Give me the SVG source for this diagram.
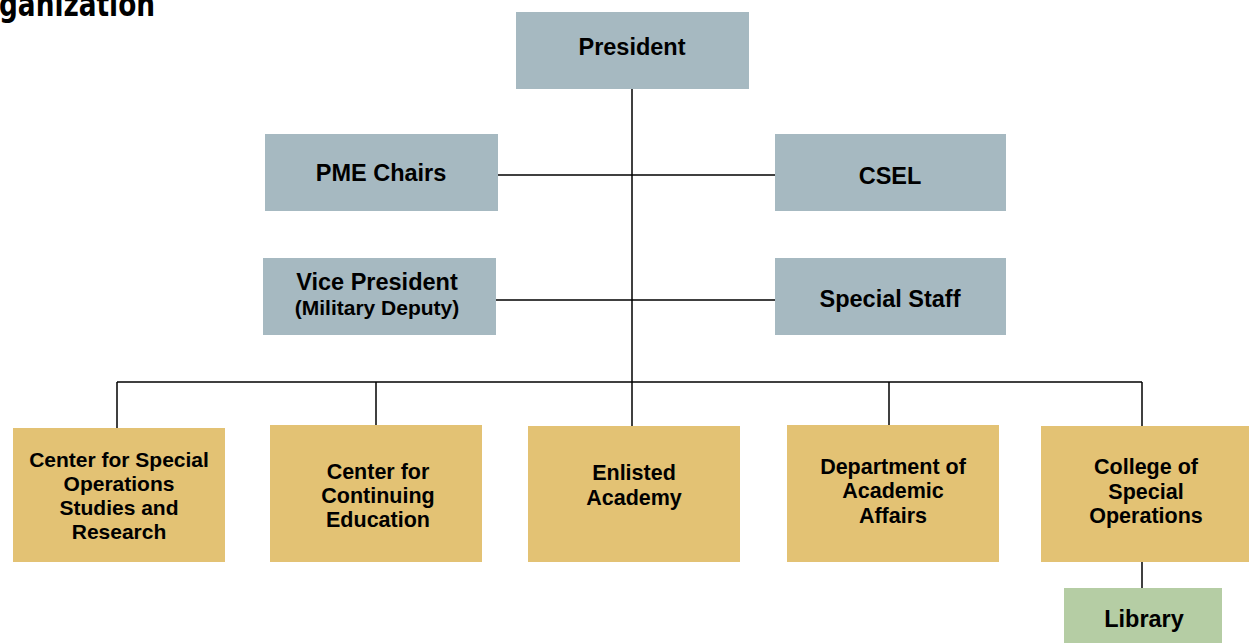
<svg xmlns="http://www.w3.org/2000/svg" width="1249" height="643" viewBox="0 0 1249 643">
<style>
.top{fill:#a6b9c1}
.unit{fill:#e3c274}
.lib{fill:#b5cda4}
text{font-family:"Liberation Sans",Arial,sans-serif;font-weight:bold;fill:#000;text-anchor:middle}
.t1{font-size:23.5px}
.t2{font-size:21px}
.t3{font-size:21.5px}
.title{font-family:"Liberation Sans Narrow","DejaVu Sans Condensed",sans-serif;font-size:34px;text-anchor:start}
.conn line{stroke:#000;stroke-width:1.5}
</style>
<rect width="1249" height="643" fill="#fff"/>
<text class="title" x="-1" y="16" textLength="156" lengthAdjust="spacingAndGlyphs">ganization</text>
<g id="connectors" class="conn">
<line x1="632" y1="89" x2="632" y2="426"/>
<line x1="498" y1="175" x2="775" y2="175"/>
<line x1="496" y1="300" x2="775" y2="300"/>
<line x1="117" y1="382" x2="1142" y2="382"/>
<line x1="117" y1="382" x2="117" y2="428"/>
<line x1="376" y1="382" x2="376" y2="425"/>
<line x1="889" y1="382" x2="889" y2="425"/>
<line x1="1142" y1="382" x2="1142" y2="426"/>
<line x1="1142" y1="562" x2="1142" y2="588"/>
</g>
<g id="president"><rect class="top" x="516" y="12" width="233" height="77"/><text class="t1" x="632" y="55">President</text></g>
<g id="pme-chairs"><rect class="top" x="265" y="134" width="233" height="77"/><text class="t1" x="381" y="181">PME Chairs</text></g>
<g id="csel"><rect class="top" x="775" y="134" width="231" height="77"/><text class="t1" x="890" y="184">CSEL</text></g>
<g id="vice-president"><rect class="top" x="263" y="258" width="233" height="77"/><text class="t1" x="377" y="290">Vice President</text><text class="t2" x="377" y="315">(Military Deputy)</text></g>
<g id="special-staff"><rect class="top" x="775" y="258" width="231" height="77"/><text class="t1" x="890" y="307">Special Staff</text></g>
<g id="cssr"><rect class="unit" x="13" y="428" width="212" height="134"/><text class="t2" x="119" y="467">Center for Special</text><text class="t2" x="119" y="491">Operations</text><text class="t2" x="119" y="515">Studies and</text><text class="t2" x="119" y="539">Research</text></g>
<g id="cce"><rect class="unit" x="270" y="425" width="212" height="137"/><text class="t3" x="378" y="479">Center for</text><text class="t3" x="378" y="503">Continuing</text><text class="t3" x="378" y="527">Education</text></g>
<g id="enlisted-academy"><rect class="unit" x="528" y="426" width="212" height="136"/><text class="t3" x="634" y="480">Enlisted</text><text class="t3" x="634" y="505">Academy</text></g>
<g id="academic-affairs"><rect class="unit" x="787" y="425" width="212" height="137"/><text class="t3" x="893" y="474">Department of</text><text class="t3" x="893" y="498">Academic</text><text class="t3" x="893" y="523">Affairs</text></g>
<g id="cso"><rect class="unit" x="1041" y="426" width="208" height="136"/><text class="t3" x="1146" y="474">College of</text><text class="t3" x="1146" y="499">Special</text><text class="t3" x="1146" y="523">Operations</text></g>
<g id="library"><rect class="lib" x="1064" y="588" width="158" height="55"/><text class="t1" x="1144" y="627">Library</text></g>
</svg>
